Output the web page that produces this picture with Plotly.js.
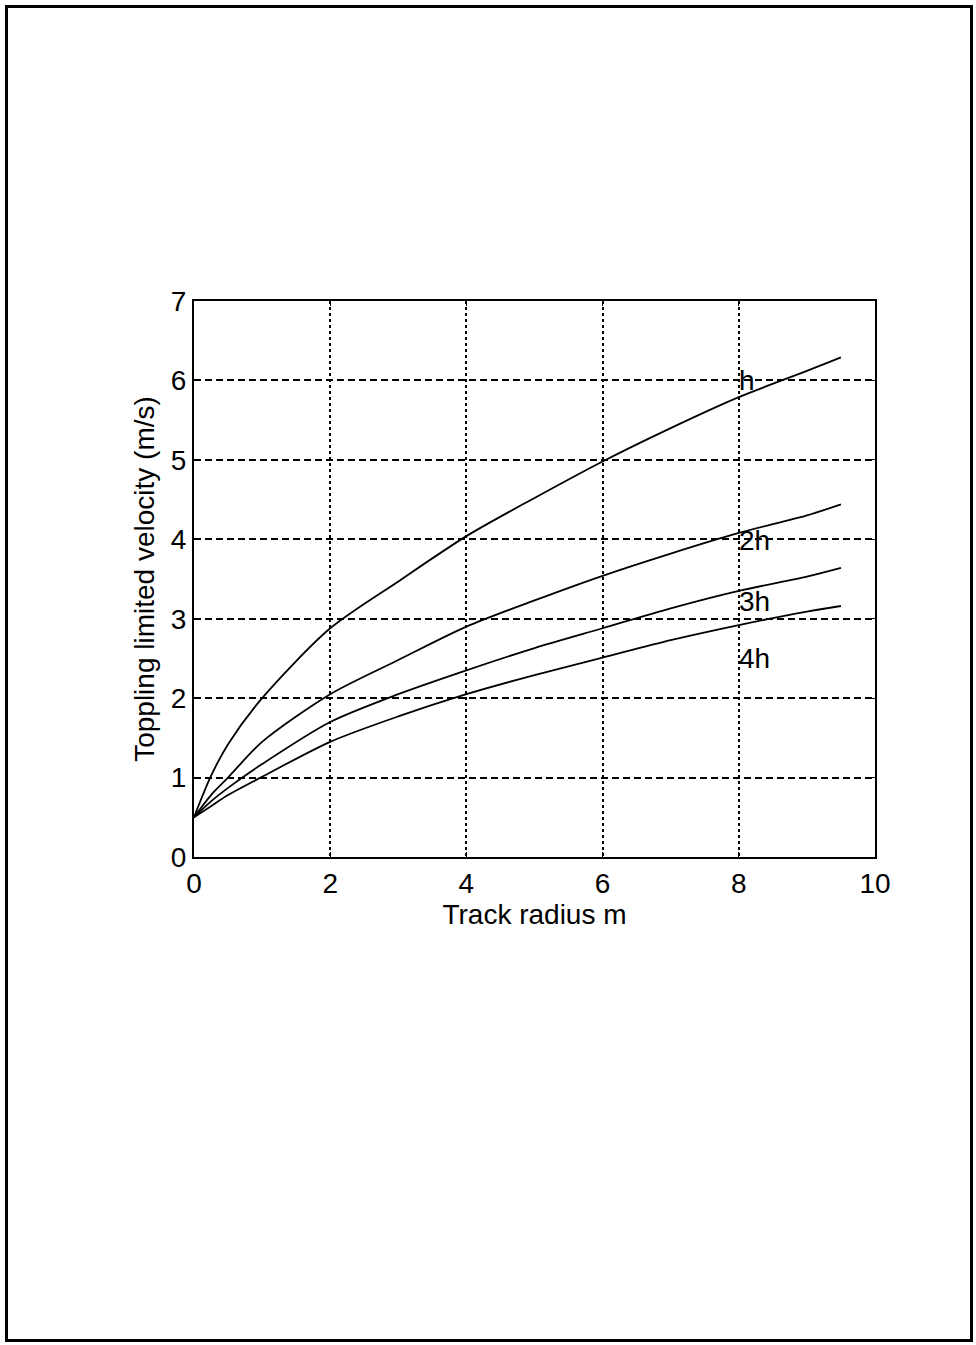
<!DOCTYPE html>
<html>
<head>
<meta charset="utf-8">
<script src="https://cdn.plot.ly/plotly-3.0.1.min.js"></script>
<style>
html,body{margin:0;padding:0;background:#fff;}
#wrap{position:relative;width:976px;height:1345px;}
#chart{position:absolute;left:0;top:0;width:976px;height:1345px;}
#frame{position:absolute;left:5px;top:5px;width:962px;height:1331px;border:3px solid #000;pointer-events:none;}
</style>
</head>
<body>
<div id="wrap"><div id="chart"></div><div id="frame"></div></div>
<script>
// Track radius (m)
const radius = [0, 0.25, 0.5, 1, 2, 3, 4, 5, 6, 7, 8, 9, 9.5];
// Toppling limited velocity (m/s) for each height
const vH  = [0.5, 1.02, 1.42, 2.00, 2.88, 3.47, 4.04, 4.52, 4.98, 5.40, 5.79, 6.12, 6.29];
const v2H = [0.5, 0.78, 1.00, 1.45, 2.05, 2.48, 2.90, 3.23, 3.54, 3.82, 4.08, 4.30, 4.44];
const v3H = [0.5, 0.70, 0.87, 1.17, 1.70, 2.05, 2.35, 2.63, 2.88, 3.13, 3.35, 3.53, 3.64];
const v4H = [0.5, 0.64, 0.78, 1.01, 1.45, 1.77, 2.05, 2.29, 2.51, 2.73, 2.92, 3.09, 3.16];
const seriesNames = ['h', '2h', '3h', '4h'];
const labelX = [7.97, 7.97, 7.97, 7.97];
const labelY = [6.0, 3.99, 3.22, 2.5];
const xTicks = [0, 2, 4, 6, 8, 10];
const yTicks = [0, 1, 2, 3, 4, 5, 6, 7];

const allV = [vH, v2H, v3H, v4H];
const traces = allV.map((v, i) => ({
  x: radius, y: v, type: 'scatter', mode: 'lines', name: seriesNames[i],
  line: {color: '#000', width: 1.8, shape: 'spline', smoothing: 0.8},
  showlegend: false, hoverinfo: 'skip'
}));

const font = {family: 'Liberation Sans, Arial, sans-serif', color: '#000'};
const annotations = seriesNames.map((n, i) => ({
  x: labelX[i], y: labelY[i], xref: 'x', yref: 'y', text: n,
  showarrow: false, xanchor: 'left', yanchor: 'middle',
  font: Object.assign({}, font, {size: 28})
}));

const layout = {
  width: 976, height: 1345,
  paper_bgcolor: '#fff', plot_bgcolor: '#fff',
  margin: {l: 194, r: 101, t: 301, b: 488, pad: 0},
  font: font,
  xaxis: {
    range: [0, 10], tickvals: xTicks, ticktext: xTicks.map(String),
    showgrid: true, gridcolor: '#000', gridwidth: 2, griddash: '3px,3px',
    zeroline: false, showline: true, linecolor: '#000', linewidth: 2, mirror: 'ticks',
    ticks: 'inside', ticklen: 5, tickcolor: '#000',
    tickfont: Object.assign({}, font, {size: 28}),
    title: {text: 'Track radius m', font: Object.assign({}, font, {size: 28}), standoff: 4}
  },
  yaxis: {
    range: [0, 7], tickvals: yTicks, ticktext: yTicks.map(String),
    showgrid: true, gridcolor: '#000', gridwidth: 2, griddash: '7px,4px',
    zeroline: false, showline: true, linecolor: '#000', linewidth: 2, mirror: 'ticks',
    ticks: 'inside', ticklen: 5, tickcolor: '#000',
    tickfont: Object.assign({}, font, {size: 28}),
    title: {text: 'Toppling limited velocity (m/s)', font: Object.assign({}, font, {size: 28}), standoff: 8}
  },
  annotations: annotations
};

Plotly.newPlot('chart', traces, layout, {displayModeBar: false, staticPlot: true});
</script>
</body>
</html>
